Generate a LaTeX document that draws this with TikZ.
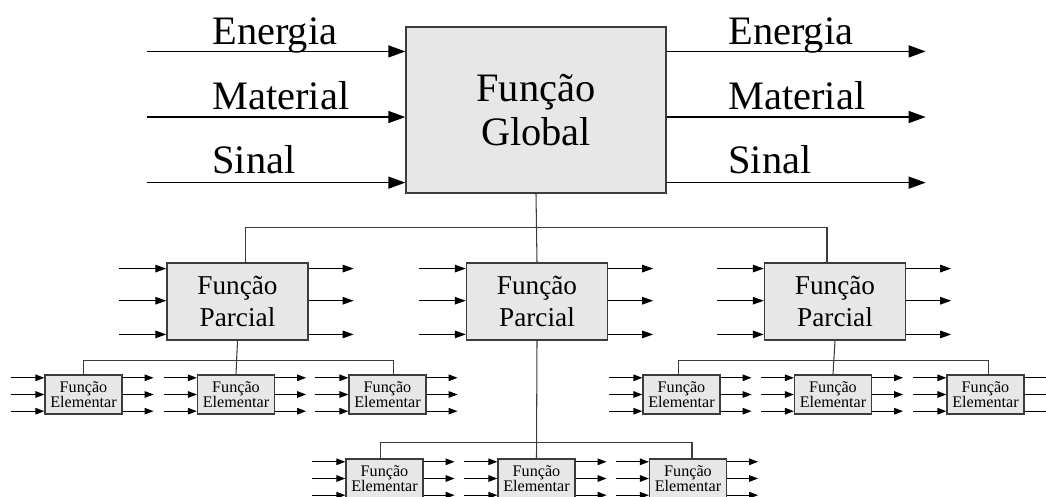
\documentclass[tikz,border=0pt]{standalone}
\usepackage{fontspec}
\setmainfont{Liberation Serif}
\usetikzlibrary{positioning,arrows.meta,calc}
\definecolor{boxgray}{RGB}{231,231,231}
\definecolor{edgegray}{RGB}{60,60,60}
\tikzset{
  bigarrow/.style={-{Triangle[length=0.34cm, width=0.24cm]}, line width=0.8pt},
  midarrow/.style={-{Triangle[length=0.22cm, width=0.15cm]}, line width=0.7pt},
  smallarrow/.style={-{Triangle[length=0.18cm, width=0.13cm]}, line width=0.7pt},
  treeline/.style={draw=edgegray, line width=0.6pt},
  globalbox/.style={draw=edgegray, line width=0.8pt, fill=boxgray, minimum width=5.2cm, minimum height=3.32cm, align=center, font=\fontsize{23}{25}\selectfont},
  partbox/.style={draw=edgegray, line width=0.8pt, fill=boxgray, minimum width=2.82cm, minimum height=1.54cm, inner sep=0pt, align=center, font=\fontsize{15.5}{18}\selectfont},
  elembox/.style={draw=edgegray, line width=0.7pt, fill=boxgray, minimum width=1.54cm, minimum height=0.78cm, inner sep=0pt, align=center, font=\fontsize{9.2}{8.8}\selectfont},
  flowlabel/.style={anchor=base west, inner sep=0pt, font=\fontsize{23}{25}\selectfont}
}

\begin{document}
\begin{tikzpicture}[x=0.02cm, y=-0.02cm]
  \useasboundingbox (0,0) rectangle (1046,497);
  \clip (0,0) rectangle (1046,497);

  % global function
  \node[globalbox] (glob) at (536,110) {Função\\Global};
  \foreach \f in {0.15,0.542,0.934} {
    \draw[bigarrow] ($(glob.north west)!\f!(glob.south west)+(-258,0)$) -- ($(glob.north west)!\f!(glob.south west)$);
    \draw[bigarrow] ($(glob.north east)!\f!(glob.south east)$) -- +(259,0);
  }
  \node[flowlabel] (inE) at (212,45) {Energia};
  \node[flowlabel] (inM) at (212,110) {Material};
  \node[flowlabel] (inS) at (212,173) {Sinal};
  \node[flowlabel] (outE) at (728,45) {Energia};
  \node[flowlabel] (outM) at (728,110) {Material};
  \node[flowlabel] (outS) at (728,173) {Sinal};

  % partial functions
  \node[partbox] (pl) at (237.5,301.5) {Função\\Parcial};
  \node[partbox] (pm) at (537,301.5) {Função\\Parcial};
  \node[partbox] (pr) at (835,301.5) {Função\\Parcial};
  \foreach \p in {pl,pm,pr} {
    \foreach \f in {0.08,0.49,0.92} {
      \draw[midarrow] ($(\p.north west)!\f!(\p.south west)+(-47,0)$) -- ($(\p.north west)!\f!(\p.south west)$);
      \draw[midarrow] ($(\p.north east)!\f!(\p.south east)$) -- +(45,0);
    }
  }
  \coordinate (gsplit) at ($(glob.south)+(0,34)$);
  \draw[treeline] (glob.south) -- (pm.north);
  \draw[treeline] (gsplit) -| ($(pl.north)+(8,0)$);
  \draw[treeline] (gsplit) -| ($(pr.north)+(-8,0)$);

  % elementary functions
  \node[elembox] (el1) at (83.5,394.5) {Função\\Elementar};
  \node[elembox] (el2) at (236,394.5) {Função\\Elementar};
  \node[elembox] (el3) at (387.5,394.5) {Função\\Elementar};
  \node[elembox] (em1) at (384.5,478.5) {Função\\Elementar};
  \node[elembox] (em2) at (536.5,478.5) {Função\\Elementar};
  \node[elembox] (em3) at (688,478.5) {Função\\Elementar};
  \node[elembox] (er1) at (681.5,394.5) {Função\\Elementar};
  \node[elembox] (er2) at (833,394.5) {Função\\Elementar};
  \node[elembox] (er3) at (985.5,394.5) {Função\\Elementar};
  \foreach \e in {el1,el2,el3,em1,em2,em3,er1,er2,er3} {
    \foreach \f in {0.085,0.5,0.915} {
      \draw[smallarrow] ($(\e.north west)!\f!(\e.south west)+(-33,0)$) -- ($(\e.north west)!\f!(\e.south west)$);
      \draw[smallarrow] ($(\e.north east)!\f!(\e.south east)$) -- +(31,0);
    }
  }
  \coordinate (lsplit) at ($(pl.south)+(0,20)$);
  \coordinate (msplit) at ($(pm.south)+(0,102)$);
  \coordinate (rsplit) at ($(pr.south)+(0,20)$);
  \draw[treeline] (pl.south) -- (el2.north);
  \draw[treeline] (lsplit) -| (el1.north);
  \draw[treeline] (lsplit) -| ($(el3.north)+(6,0)$);
  \draw[treeline] (pm.south) -- (em2.north);
  \draw[treeline] (msplit) -| ($(em1.north)+(-4,0)$);
  \draw[treeline] (msplit) -| ($(em3.north)+(4,0)$);
  \draw[treeline] (pr.south) -- (er2.north);
  \draw[treeline] (rsplit) -| ($(er1.north)+(-3,0)$);
  \draw[treeline] (rsplit) -| ($(er3.north)+(3,0)$);
\end{tikzpicture}
\end{document}
